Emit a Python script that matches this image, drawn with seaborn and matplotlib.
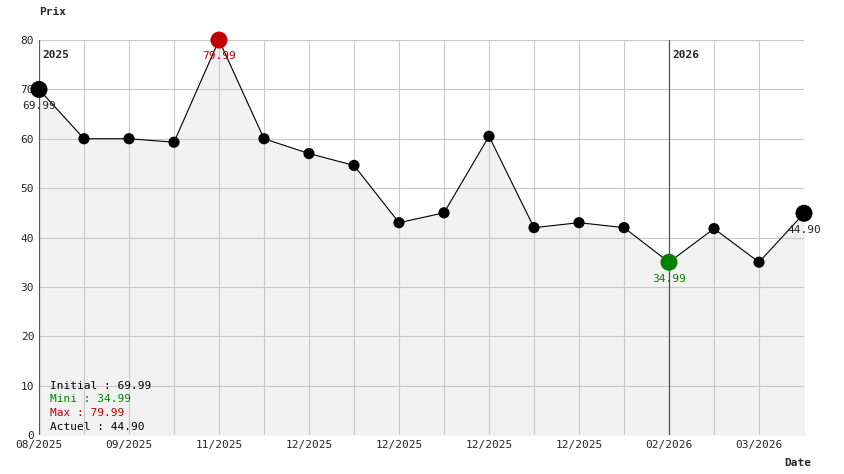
import matplotlib
matplotlib.use("Agg")
import matplotlib.pyplot as plt
import seaborn as sns
import numpy as np

prices = [69.99, 60.0, 60.0, 59.3, 79.99, 60.0, 57.0, 54.6, 43.0, 45.0, 60.5, 42.0, 43.0, 42.0, 34.99, 41.8, 35.0, 44.90]
xlabels = ["08/2025", "", "09/2025", "", "11/2025", "", "12/2025", "", "12/2025", "", "12/2025", "", "12/2025", "", "02/2026", "", "03/2026", ""]
years = [(0, "2025"), (14, "2026")]

sns.set_style("white")
plt.rcParams['font.family'] = ['DejaVu Sans Mono']
fig = plt.figure(figsize=(8.44, 4.74), dpi=100)
ax = fig.add_axes([39/844, 1-435/474, (804-39)/844, (435-40)/474])
x = np.arange(len(prices))
ax.fill_between(x, prices, 0, color="#f2f2f2", zorder=0)
for i in x:
    ax.axvline(i, color="#c8c8c8", lw=0.8, zorder=0.5)
for v in range(10, 81, 10):
    ax.axhline(v, color="#c8c8c8", lw=0.8, zorder=0.5)
for i, t in years:
    ax.axvline(i, color="#555555", lw=0.9, zorder=0.6)
    ax.text(i + 0.08, 78, t, fontsize=8, fontweight="bold", va="top")
sns.lineplot(x=x, y=prices, ax=ax, color="black", lw=0.8, zorder=2)
imin, imax = int(np.argmin(prices)), int(np.argmax(prices))
for i, p in enumerate(prices):
    c, s = "black", 65
    if i == imax: c, s = "#c00000", 150
    elif i == imin: c, s = "#008000", 150
    elif i in (0, len(prices)-1): s = 150
    ax.scatter(i, p, s=s, color=c, zorder=3, edgecolors="none", clip_on=False)
ax.text(0, prices[0]-2.3, "69.99", fontsize=8, ha="center", va="top")
ax.text(imax, prices[imax]-2.3, "79.99", fontsize=8, ha="center", va="top", color="#c00000")
ax.text(imin, prices[imin]-2.3, "34.99", fontsize=8, ha="center", va="top", color="#008000")
ax.text(17, prices[-1]-2.3, "44.90", fontsize=8, ha="center", va="top")
info = [("Initial : 69.99", "black"), ("Mini : 34.99", "#008000"), ("Max : 79.99", "#c00000"), ("Actuel : 44.90", "black")]
for k, (t, c) in enumerate(info):
    ax.text(0.25, 10 - k*2.8, t, fontsize=8, color=c, va="center")
ax.set_xlim(0, 17)
ax.set_ylim(0, 80)
ax.set_xticks(x)
ax.set_xticklabels(xlabels, fontsize=8)
ax.set_yticks(range(0, 81, 10))
ax.tick_params(labelsize=8, length=0)
for s in ax.spines.values():
    s.set_visible(False)
fig.text(39/844, 1-12/474, "Prix", fontsize=8, fontweight="bold", va="center")
fig.text(811/844, 1-463/474, "Date", fontsize=8, fontweight="bold", va="center", ha="right")
fig.savefig("out.png", dpi=100, facecolor="white")
